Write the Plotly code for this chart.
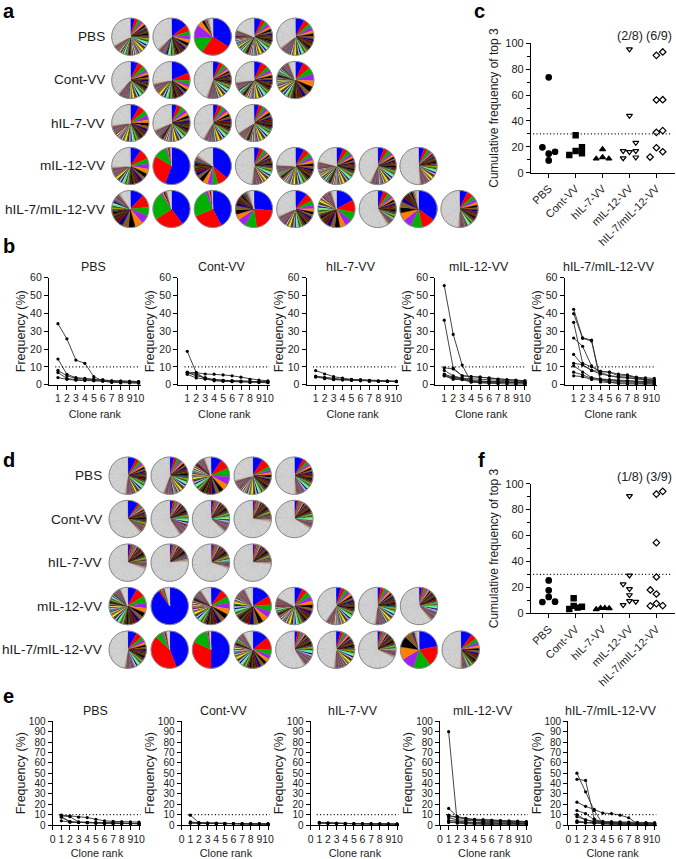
import plotly.graph_objects as go

W, H = 676, 859
FONT = "Liberation Sans"
TXT = "#1c1c1c"

GROUPS = ["PBS", "Cont-VV", "hIL-7-VV", "mIL-12-VV", "hIL-7/mIL-12-VV"]
RANKS = [1, 2, 3, 4, 5, 6, 7, 8, 9, 10]

# top-10 clone frequencies per sample, same sample order as the pies
B_PBS = [
    [4, 3, 2.5, 2.3, 2.2, 2, 1.3, 1, 1, 0.9],
    [14.4, 5.8, 4, 3.5, 3, 2.8, 2.2, 2, 1.9, 1.8],
    [34.2, 25.7, 13.8, 12, 4.5, 2.2, 1.5, 1.3, 1.1, 1],
    [6.8, 3.5, 2.8, 2.6, 2.4, 2.2, 1.8, 1.5, 1.3, 1.2],
    [8, 5, 3.5, 3, 2.8, 2.5, 2.2, 2, 1.9, 1.8],
]
B_CONT = [
    [6.8, 5, 4, 2.6, 2.2, 2, 1.9, 1.8, 1.6, 1.6],
    [18.7, 6.8, 3.3, 2.8, 2.5, 2.3, 2, 1.8, 1.7, 1.6],
    [5.8, 3.8, 3.2, 2.2, 1.9, 1.7, 1.5, 1.3, 1.2, 1.1],
    [6.5, 6, 3.4, 2.8, 2.4, 2, 1.8, 1.5, 1.4, 1.3],
    [7, 6.8, 6, 5.9, 5.5, 5, 4.2, 3, 2.6, 2.2],
]
B_H7 = [
    [7.9, 6, 4.5, 3.7, 3, 2.8, 2.5, 2.2, 2.1, 2],
    [4.8, 4, 3.6, 3, 2.8, 2.4, 2.1, 2, 1.9, 1.8],
    [4.5, 3.9, 3, 2.9, 2.6, 2.3, 2.1, 1.9, 1.8, 1.8],
    [4.3, 3.4, 2.8, 2.6, 2.4, 2.2, 2, 1.9, 1.8, 1.7],
]
B_M12 = [
    [9.5, 8.8, 5, 4.6, 4.2, 3.6, 3, 2.6, 2.3, 2.1],
    [55.6, 28.2, 11, 1.5, 1, 0.7, 0.5, 0.4, 0.3, 0.3],
    [36.2, 9.3, 5, 4.4, 4.2, 3.8, 3.2, 2.8, 2.6, 2.2],
    [5, 3.5, 3, 1.9, 1.6, 1.4, 1.3, 1.2, 1.1, 1],
    [8, 5, 3.6, 3.3, 3, 2.5, 2.3, 2, 1.9, 1.7],
    [6, 4.2, 3.6, 2.4, 2, 1.8, 1.6, 1.5, 1.4, 1.3],
    [5.5, 3.8, 3.2, 2.2, 1.9, 1.7, 1.5, 1.3, 1.2, 1.1],
    [5, 3, 2.8, 1.5, 1.3, 1.2, 1.1, 1, 0.9, 0.9],
]
B_COMBO = [
    [12, 11.2, 8, 7.5, 7, 6, 5.5, 4.2, 3.8, 3.5],
    [39.8, 26, 24.5, 1.5, 1.2, 1, 0.8, 0.7, 0.6, 0.5],
    [42.3, 26.3, 25, 2.5, 1.5, 0.6, 0.4, 0.3, 0.3, 0.2],
    [26.2, 21.5, 10.5, 7, 5, 4, 3.8, 3.2, 2.5, 2],
    [10.5, 7, 4, 3.2, 2.8, 2.5, 2.2, 2, 1.8, 1.6],
    [17, 11, 8, 6, 5, 4.5, 4, 3.5, 3, 2.6],
    [5, 4.5, 2.9, 2.4, 2, 1.8, 1.5, 1.4, 1.2, 1.1],
    [35, 12, 10, 7.5, 7, 5, 5, 4, 3, 2.5],
    [7, 5.5, 3.5, 3, 2.5, 2.2, 2, 1.7, 1.6, 1.5],
]

E_PBS = [
    [7.5, 3, 2.5, 2.2, 2, 1.8, 1.6, 1.5, 1.4, 1.3],
    [4, 2.7, 2.5, 2.3, 2, 1.8, 1.6, 1.5, 1.4, 1.3],
    [9.5, 8.8, 7.5, 7.2, 5.5, 4, 3.5, 3.3, 3, 2.8],
    [8.8, 8, 3, 2.5, 2.2, 2, 1.8, 1.7, 1.6, 1.5],
    [8, 3.3, 2.5, 2.2, 2, 1.8, 1.6, 1.5, 1.4, 1.3],
]
E_CONT = [
    [9.5, 2, 1.8, 1.6, 1.5, 1.3, 1.2, 1.1, 1, 1],
    [3, 2, 1.8, 1.5, 1.4, 1.3, 1.2, 1.1, 1, 1],
    [2, 1.8, 1.6, 1.5, 1.3, 1.2, 1.1, 1, 1, 0.9],
    [1.8, 1.6, 1.5, 1.3, 1.2, 1.1, 1, 0.9, 0.9, 0.8],
    [2.5, 1.9, 1.6, 1.5, 1.3, 1.2, 1.1, 1, 1, 0.9],
]
E_H7 = [
    [2.5, 2, 1.7, 1.5, 1.3, 1.2, 1.1, 1, 1, 0.9],
    [2, 1.7, 1.5, 1.3, 1.2, 1.1, 1, 0.9, 0.9, 0.8],
    [2, 1.7, 1.6, 1.4, 1.3, 1.1, 1, 1, 0.9, 0.8],
    [1.9, 1.7, 1.5, 1.3, 1.2, 1, 1, 0.9, 0.8, 0.8],
]
E_M12 = [
    [8, 8, 6.5, 4.5, 4, 4, 3.5, 3.3, 3.1, 2.9],
    [90, 2, 1.2, 0.7, 0.5, 0.4, 0.3, 0.3, 0.2, 0.2],
    [9.5, 7, 6, 5, 5, 4.5, 4, 3.5, 3.2, 3],
    [16, 8, 6, 5.5, 5, 4.5, 4.2, 4, 3.8, 3.3],
    [7, 5, 4.5, 4, 3.5, 3, 2.8, 2.5, 2.3, 2.1],
    [4.5, 3.5, 3, 2.5, 2.3, 2, 1.8, 1.7, 1.5, 1.4],
    [3, 3, 2.5, 2.2, 2, 1.8, 1.6, 1.5, 1.4, 1.3],
    [2.5, 2, 2, 1.7, 1.5, 1.3, 1.2, 1.1, 1, 1],
]
E_COMBO = [
    [8, 5, 3, 2.5, 2.2, 2, 1.8, 1.6, 1.5, 1.4],
    [44, 43, 6, 1.5, 1, 0.7, 0.5, 0.4, 0.3, 0.3],
    [50, 32, 14, 1, 0.6, 0.4, 0.3, 0.2, 0.2, 0.1],
    [14, 11, 5, 3.5, 3.2, 3, 2.8, 2.6, 2.4, 2.2],
    [3, 2.2, 1.9, 1.7, 1.5, 1.4, 1.3, 1.2, 1.1, 1],
    [4, 2.6, 2.2, 1.9, 1.7, 1.5, 1.4, 1.3, 1.2, 1.1],
    [2.5, 2, 1.7, 1.5, 1.4, 1.3, 1.2, 1.1, 1, 1],
    [22, 18, 15, 11.5, 11, 9.5, 7, 1.2, 0.9, 0.7],
    [10, 5, 3.5, 2.8, 2.5, 2.2, 2, 1.8, 1.6, 1.5],
]

# share of the grey (singleton) slice in each pie
A_GREY = [
    [32, 36, 1.5, 15, 34],
    [37, 27, 43, 26, 5],
    [26, 30, 40, 33],
    [25, 2, 13, 47, 23, 20, 42, 50],
    [8, 2.5, 3, 3, 30, 3, 57, 1, 47],
]
D_GREY = [
    [47, 43, 4, 28, 49],
    [60, 58, 62, 71, 65],
    [68, 75, 68, 73],
    [5, 3, 8, 6, 16, 39, 47, 60],
    [46, 3, 2, 7, 58, 47, 67, 1.5, 48],
]

TAIL = [1.7, 1.6, 1.6, 1.5, 1.5, 1.4, 1.4, 1.3, 1.3, 1.3, 1.2, 1.2, 1.2, 1.1, 1.1,
        1.1, 1, 1, 1, 1, 0.9, 0.9, 0.9, 0.9, 0.9, 0.9, 0.9, 0.9, 0.9, 0.9,
        0.8, 0.8, 0.8, 0.8, 0.8, 0.8, 0.8, 0.8, 0.8, 0.8, 0.7, 0.7, 0.7, 0.7, 0.7,
        0.7, 0.7, 0.7, 0.7, 0.7, 0.6, 0.6, 0.6, 0.6, 0.6, 0.6, 0.6, 0.6, 0.6, 0.6]

HEAD_COLORS = ["#0000FF", "#FF0000", "#00B000", "#A020F0", "#FF8000",
               "#000000", "#8B5A20", "#000080", "#800000", "#2A2A10"]
MID_COLORS = ["#5A3A00", "#000000", "#7A0000", "#006060", "#A0A000", "#404000",
              "#40E0A0", "#80FF80", "#000080", "#A8C0FF", "#8B0000", "#006400",
              "#FFFF00", "#C09000", "#303090", "#FFD040", "#600060", "#00A0A0",
              "#B05020", "#A8C0FF", "#202020", "#FFFF60", "#700030", "#8080C0"]
END_COLORS = ["#6A3A50", "#8A6070", "#5A3A4A", "#7A4A5A", "#8A6070", "#5A3A4A",
              "#7A4A5A", "#6A3A50", "#A08A70", "#BBA890"]
GREY_SHADES = ["#CFCFCF", "#C8C8C8", "#D2D2D2", "#CBCBCB", "#C6C6C6", "#CECECE", "#CACACA"]
GREY_STRIP = 1.3

# cumulative frequency of top 3, dots spread sideways within a group
C_X = [
    [0, -0.235, 0, 0.235, 0],
    [0, 0.235, 0, -0.235, 0.235],
    [0, 0, -0.235, 0.235],
    [0, 0, 0.235, -0.235, 0, 0.235, -0.235, 0.235],
    [0.235, 0, 0, 0.235, 0.235, 0, 0, 0.235, -0.235],
]
C_Y = [
    [73.7, 19.6, 14.7, 16.2, 9.5],
    [28.9, 19.8, 16.8, 13.7, 15],
    [18, 11.9, 10.8, 10.8],
    [95.4, 44, 23.2, 16.8, 16, 16.8, 11.3, 11.9],
    [93.3, 90.7, 56.2, 56.4, 32.5, 31.2, 19.3, 16.2, 12.1],
]
F_X = [
    [0, 0, 0, -0.235, 0.235],
    [-0.074, -0.074, -0.235, 0.074, 0.235],
    [-0.235, -0.074, 0.087, 0.248],
    [0, 0, -0.235, 0, 0, 0, 0.235, -0.235],
    [0.235, 0, 0, 0, -0.225, 0, 0, -0.225, 0.235],
]
F_Y = [
    [25.4, 17.7, 12.6, 8.7, 9],
    [11.6, 5.7, 3.3, 4.4, 5.1],
    [3.1, 4.1, 4.1, 3.9],
    [90.5, 29.3, 22.4, 18.8, 14.1, 9.5, 9, 6.4],
    [94.1, 92, 54.5, 28, 18, 14.9, 7.5, 5.7, 5.9],
]
SYMBOLS = ["circle", "square", "triangle-up", "triangle-down-open", "diamond-open"]
SIZES = [5.5, 5.2, 5.2, 5.2, 5]
C_RATIOS = ["(2/8)", "(6/9)"]
F_RATIOS = ["(1/8)", "(3/9)"]

fig = go.Figure()
shapes = []
annotations = []


def text(x, y, s, size, anchor="center", bold=False, angle=0):
    annotations.append(dict(
        x=x / W, y=1 - y / H, xref="paper", yref="paper", text=f"<b>{s}</b>" if bold else s,
        showarrow=False, xanchor=anchor, yanchor="middle", textangle=angle,
        font=dict(family=FONT, size=size, color="#000000" if bold else TXT),
    ))


def add_pie(cx, cy, r, top, grey):
    # top clones, then the smaller ones until only the grey share is left
    vals = list(top)
    room = 100 - grey - sum(vals)
    for v in TAIL:
        if room < v:
            break
        vals.append(v)
        room -= v
    n = len(vals)
    n_end = max(3, min(len(END_COLORS), (n - 10) // 2))
    cols = []
    for i in range(n):
        if i >= n - n_end:
            cols.append(END_COLORS[i - n])
        elif i < 10:
            cols.append(HEAD_COLORS[i])
        else:
            cols.append(MID_COLORS[(i - 10) % len(MID_COLORS)])
    # grey part is drawn as thin strips of close shades
    left = 100 - sum(vals)
    k = 0
    while left > 0.01:
        v = min(GREY_STRIP, left)
        vals.append(v)
        cols.append(GREY_SHADES[k % len(GREY_SHADES)])
        left -= v
        k += 1
    fig.add_trace(go.Pie(
        values=vals, sort=False, direction="clockwise", rotation=0, textinfo="none",
        hoverinfo="skip", showlegend=False,
        domain=dict(x=[(cx - r) / W, (cx + r) / W], y=[1 - (cy + r) / H, 1 - (cy - r) / H]),
        marker=dict(colors=cols, line=dict(color=cols, width=0.35)),
    ))
    shapes.append(dict(type="circle", xref="paper", yref="paper", layer="above",
                       x0=(cx - r) / W, x1=(cx + r) / W, y0=1 - (cy + r) / H, y1=1 - (cy - r) / H,
                       line=dict(color="#8A8A8A", width=1)))


def add_pies(xs, ys, r, lines, greys, label_x):
    for row, group in enumerate(GROUPS):
        text(label_x, ys[row], group, 13.6, "right")
        for col in range(len(lines[row])):
            add_pie(xs[col], ys[row], r, lines[row][col], greys[row][col])


AXIS = dict(showgrid=False, zeroline=False, showline=True, linecolor="#000000", linewidth=1.3,
            automargin=False, ticks="outside", tickwidth=1.3, tickcolor="#000000", ticklen=4,
            tickangle=0, tickfont=dict(family=FONT, size=10.5, color=TXT))
DOT = dict(color="#000000", width=1.2, dash="1px,2.4px")
axis_no = 0
layout_axes = {}


def add_rank_panel(x0, top, bottom, step, ymax, title, title_x, title_y, lines, xticks, xtitle_gap, ytitle_gap, ysize):
    global axis_no
    axis_no += 1
    xa, ya = f"x{axis_no}", f"y{axis_no}"
    width = 10.25 * step
    layout_axes[f"xaxis{axis_no}"] = dict(
        AXIS, domain=[x0 / W, (x0 + width) / W], range=[0, 10.25], anchor=ya,
        tickmode="array", tickvals=xticks, ticktext=[str(v) for v in xticks],
        title=dict(text="Clone rank", font=dict(family=FONT, size=10.8, color=TXT), standoff=xtitle_gap))
    layout_axes[f"yaxis{axis_no}"] = dict(
        AXIS, domain=[1 - bottom / H, 1 - top / H], range=[0, ymax], anchor=xa, dtick=10,
        tickfont=dict(family=FONT, size=ysize, color=TXT),
        title=dict(text="Frequency (%)", font=dict(family=FONT, size=12.5, color=TXT), standoff=ytitle_gap))
    for vals in lines:
        fig.add_trace(go.Scatter(x=RANKS, y=vals, xaxis=xa, yaxis=ya, mode="lines+markers",
                                 showlegend=False, cliponaxis=False, hoverinfo="skip",
                                 line=dict(color="#303030", width=0.9),
                                 marker=dict(color="#000000", size=3.2)))
    shapes.append(dict(type="line", xref=xa, yref=ya, x0=0.7, x1=10.2, y0=10, y1=10, line=DOT))
    text(title_x, title_y, title, 12.4)


def add_top3_panel(top, bottom, xs, ys, ratios, ratio_y):
    global axis_no
    axis_no += 1
    xa, ya = f"x{axis_no}", f"y{axis_no}"
    layout_axes[f"xaxis{axis_no}"] = dict(
        AXIS, domain=[531 / W, 674.7 / W], range=[-0.658, 4.68], anchor=ya, tickangle=-45,
        tickmode="array", tickvals=[0, 1, 2, 3, 4], ticktext=GROUPS,
        tickfont=dict(family=FONT, size=11, color=TXT))
    layout_axes[f"yaxis{axis_no}"] = dict(
        AXIS, domain=[1 - bottom / H, 1 - top / H], range=[0, 100], anchor=xa, dtick=20,
        minor=dict(ticks="outside", dtick=10, ticklen=2.5, tickwidth=1.3, tickcolor="#000000"),
        tickfont=dict(family=FONT, size=11, color=TXT),
        title=dict(text="Cumulative frequency of top 3",
                   font=dict(family=FONT, size=12, color=TXT), standoff=4))
    for i in range(5):
        fig.add_trace(go.Scatter(
            x=[i + d for d in xs[i]], y=ys[i], xaxis=xa, yaxis=ya, mode="markers",
            showlegend=False, hoverinfo="skip", cliponaxis=False,
            marker=dict(symbol=SYMBOLS[i], size=SIZES[i], color="#000000",
                        line=dict(color="#000000", width=1.2))))
    shapes.append(dict(type="line", xref=xa, yref=ya, x0=-0.58, x1=4.6, y0=30, y1=30, line=DOT))
    text(629.7, ratio_y, ratios[0], 12.6)
    text(659, ratio_y, ratios[1], 12.6)


# pies
A_PANEL = [B_PBS, B_CONT, B_H7, B_M12, B_COMBO]
D_PANEL = [E_PBS, E_CONT, E_H7, E_M12, E_COMBO]
add_pies([130.3, 171.5, 212.8, 254, 295.3, 336.5, 377.7, 418.5, 459.5],
         [36.7, 80, 123, 166, 209], 18.6, A_PANEL, A_GREY, 106.5)
add_pies([127.7, 169.7, 211, 252.7, 294.3, 336, 377.3, 419, 460.7],
         [475.7, 519, 562.7, 606, 649.7], 18.7, D_PANEL, D_GREY, 103.5)

# line panels
for x0, name, lines in zip([49, 178.3, 306.7, 435.3, 564.7], GROUPS, A_PANEL):
    add_rank_panel(x0, 277.7, 384.7, 8.96, 60, name, x0 + 44, 266.7, lines, RANKS, 6, 1, 10.5)
for x0, name, lines in zip([52.7, 181.7, 310.7, 440, 568.3], GROUPS, D_PANEL):
    add_rank_panel(x0, 721.3, 825, 8.63, 100, name, x0 + 42.5, 710.7, lines, [0] + RANKS, 6, 0, 10)

add_top3_panel(43.3, 172.7, C_X, C_Y, C_RATIOS, 36)
add_top3_panel(483.7, 613.3, F_X, F_Y, F_RATIOS, 476.7)

# panel letters
for letter, x, y in [("a", 1, 10.5), ("b", 1, 246), ("c", 472, 10.5), ("d", 1, 460),
                     ("e", 1, 696), ("f", 476, 460)]:
    text(x, y, letter, 20, "left", bold=True)

fig.update_layout(width=W, height=H, margin=dict(l=0, r=0, t=0, b=0), autosize=False,
                  paper_bgcolor="white", plot_bgcolor="white",
                  shapes=shapes, annotations=annotations, **layout_axes)

fig.write_html("out.html", config=dict(displayModeBar=False),
               post_script="document.body.style.margin='0';")
